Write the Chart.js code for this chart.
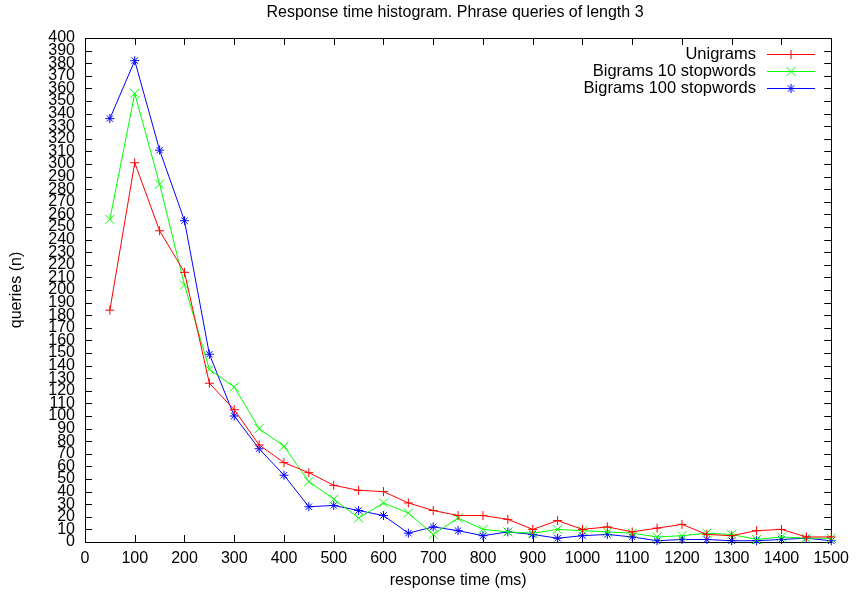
<!DOCTYPE html>
<html>
<head>
<meta charset="utf-8">
<script src="https://cdn.jsdelivr.net/npm/chart.js@4/dist/chart.umd.min.js"></script>
<style>
  body { margin: 0; background: #fff; }
  canvas { display: block; }
</style>
</head>
<body>
<canvas id="c" width="856" height="596"></canvas>
<script>
// response time buckets (ms)
var times = [50, 100, 150, 200, 250, 300, 350, 400, 450, 500, 550, 600, 650, 700, 750,
             800, 850, 900, 950, 1000, 1050, 1100, 1150, 1200, 1250, 1300, 1350, 1400, 1450, 1500];

var unigrams = [184, 301, 247, 214, 126, 105, 77, 63, 55, 45, 41, 40, 31, 25, 21,
                21, 18, 10, 17, 10, 12, 8, 11, 14, 6, 5, 9, 10, 4, 4];

var bigrams10 = [256, 356, 284, 204, 137, 123, 90, 76, 48, 34, 19, 31, 23, 6, 19,
                 10, 8, 7, 10, 9, 8, 7, 4, 5, 7, 6, 2, 4, 3, 3];

var bigrams100 = [336, 382, 311, 255, 149, 100, 74, 53, 28, 29, 25, 21, 7, 12, 9,
                  5, 8, 6, 3, 5, 6, 4, 1, 2, 2, 1, 1, 2, 3, 1];

var seriesNames = ['Unigrams', 'Bigrams 10 stopwords', 'Bigrams 100 stopwords'];
var seriesColors = ['#ff0000', '#00ff00', '#0000ff'];
var seriesMarkers = ['cross', 'crossRot', 'star'];
var markerSizes = [4.5, 6.4, 4.5];

var FONT = '"Liberation Sans", Arial, Helvetica, sans-serif';

function toPoints(ys) {
  return times.map(function (t, i) { return { x: t, y: ys[i] }; });
}

// gnuplot style frame: box border, inward ticks mirrored on all sides, legend top right
var gnuFrame = {
  id: 'gnuFrame',
  beforeDatasetsDraw: function (chart) {
    var ctx = chart.ctx, a = chart.chartArea;
    var xs = chart.scales.x, ys = chart.scales.y;
    var tl = 7;
    ctx.save();
    ctx.strokeStyle = '#000';
    ctx.lineWidth = 1;
    ctx.beginPath();
    xs.ticks.forEach(function (t) {
      var px = Math.round(xs.getPixelForValue(t.value)) + 0.5;
      ctx.moveTo(px, a.bottom); ctx.lineTo(px, a.bottom - tl);
      ctx.moveTo(px, a.top); ctx.lineTo(px, a.top + tl);
    });
    ys.ticks.forEach(function (t) {
      var py = Math.round(ys.getPixelForValue(t.value)) + 0.5;
      ctx.moveTo(a.left, py); ctx.lineTo(a.left + tl, py);
      ctx.moveTo(a.right, py); ctx.lineTo(a.right - tl, py);
    });
    ctx.stroke();
    ctx.strokeRect(Math.round(a.left) + 0.5, Math.round(a.top) + 0.5,
                   Math.round(a.right - a.left), Math.round(a.bottom - a.top));

    // title
    ctx.fillStyle = '#000';
    ctx.font = '16px ' + FONT;
    ctx.textAlign = 'center';
    ctx.textBaseline = 'middle';
    ctx.fillText('Response time histogram. Phrase queries of length 3', 455, 13);
    ctx.restore();
  },
  afterDraw: function (chart) {
    var ctx = chart.ctx;
    ctx.save();
    ctx.font = '16.5px ' + FONT;
    ctx.textAlign = 'right';
    ctx.textBaseline = 'middle';
    for (var i = 0; i < seriesNames.length; i++) {
      var y = 54 + i * 17;
      ctx.fillStyle = '#000';
      ctx.fillText(seriesNames[i], 756, y);
      ctx.strokeStyle = seriesColors[i];
      ctx.lineWidth = 1;
      ctx.beginPath();
      ctx.moveTo(767, y + 0.5); ctx.lineTo(815, y + 0.5);
      ctx.stroke();
      Chart.helpers.drawPoint(ctx, {
        pointStyle: seriesMarkers[i], radius: markerSizes[i], rotation: 0, borderWidth: 1
      }, 791, y + 0.5);
    }
    ctx.restore();
  }
};

Chart.defaults.font.family = FONT;
Chart.defaults.font.size = 16;
Chart.defaults.color = '#000';

var datasets = [unigrams, bigrams10, bigrams100].map(function (ys, i) {
  return {
    label: seriesNames[i],
    data: toPoints(ys),
    borderColor: seriesColors[i],
    backgroundColor: seriesColors[i],
    borderWidth: 1,
    pointStyle: seriesMarkers[i],
    pointRadius: markerSizes[i],
    pointBorderWidth: 1,
    pointBorderColor: seriesColors[i],
    tension: 0,
    clip: false
  };
});

new Chart(document.getElementById('c'), {
  type: 'line',
  data: { datasets: datasets },
  options: {
    responsive: false,
    animation: false,
    layout: { padding: { top: 38, right: 21, left: 0, bottom: 0 } },
    plugins: { legend: { display: false }, title: { display: false }, tooltip: { enabled: false } },
    scales: {
      x: {
        type: 'linear',
        min: 0, max: 1500,
        afterFit: function (s) { s.height = 54; },
        ticks: {
          stepSize: 100, padding: 7, maxRotation: 0, autoSkip: false,
          callback: function (v) { return String(v); }
        },
        grid: { display: false, drawTicks: false },
        border: { display: false },
        title: { display: true, text: 'response time (ms)', padding: { top: 6, bottom: 6 } }
      },
      y: {
        min: 0, max: 400,
        afterFit: function (s) { s.width = 85; },
        ticks: {
          stepSize: 10, padding: 10, autoSkip: false,
          callback: function (v) { return String(v); }
        },
        grid: { display: false, drawTicks: false },
        border: { display: false },
        title: { display: true, text: 'queries (n)', padding: { top: 7, bottom: 7 } }
      }
    }
  },
  plugins: [gnuFrame]
});
</script>
</body>
</html>
